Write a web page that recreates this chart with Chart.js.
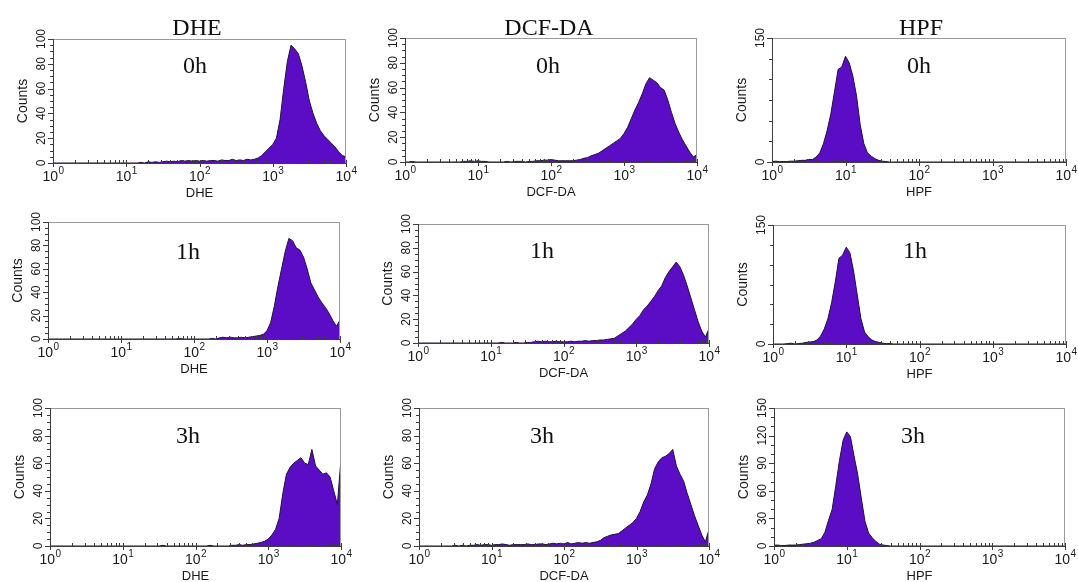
<!DOCTYPE html>
<html>
<head>
<meta charset="utf-8">
<script src="https://cdn.jsdelivr.net/npm/chart.js@4.4.0/dist/chart.umd.min.js"></script>
<style>
  body { margin: 0; background: #fff; width: 1078px; height: 582px; position: relative; overflow: hidden; }
  canvas { position: absolute; }
  .head, .time { position: absolute; transform: translate(-50%, -50%); font-family: "Liberation Serif", "Times New Roman", serif; color: #111; white-space: nowrap; }
  .head { font-size: 24px; }
  .time { font-size: 24px; }
</style>
</head>
<body>
<script>
// x positions of histogram channels, in decades (log10 of intensity)
const logBins = [
  0.00,0.05,0.10,0.15,0.20,0.25,0.30,0.35,0.40,0.45,0.50,0.55,0.60,0.65,0.70,0.75,0.80,0.85,0.90,0.95,
  1.00,1.05,1.10,1.15,1.20,1.25,1.30,1.35,1.40,1.45,1.50,1.55,1.60,1.65,1.70,1.75,1.80,1.85,1.90,1.95,
  2.00,2.05,2.10,2.15,2.20,2.25,2.30,2.35,2.40,2.45,2.50,2.55,2.60,2.65,2.70,2.75,2.80,2.85,2.90,2.95,
  3.00,3.05,3.10,3.15,3.20,3.25,3.30,3.35,3.40,3.45,3.50,3.55,3.60,3.65,3.70,3.75,3.80,3.85,3.90,3.95,
  4.00
];

// counts, one value per bin
const dhe0h = [
  0,0,0,0,0,0,0,0,0,0,0,0,0,0,0,0,0,0,0,0,
  0,0,0,0,0.5,0,1,0.5,1,0.5,1,1.5,1,1.5,1,2,1.5,2,1.5,2,
  1.5,2,1.5,2,2,1.5,2.5,2,2,3,2,2.5,2,3,2.5,3,4,6,9,12,
  15,20,35,60,82,95,92,88,78,65,50,40,32,26,22,19,16,13,9,6,
  5
];
const dhe1h = [
  0,0,0,0,0,0,0,0,0,0,0,0,0,0,0,0,0,0,0,0,
  0,0,0,0,0,0,0,0,0,0,0,0,0,0,0,0,0.5,0,0,0,
  0,0,0,0,0,0.5,0,1,1.5,1,1.5,1,1,1.5,1,1.5,2,2.5,3,4,
  7,14,28,45,60,75,86,84,78,76,70,60,48,42,36,31,27,22,16,11,
  16
];
const dhe3h = [
  0,0,0,0,0,0,0,0,0,0,0,0,0,0,0,0,0,0,0,0,
  0,0,0,0,0,0,0,0,0,0,0,0.5,0,0,0,0,0,0,0,0,
  0,0,0,0,0.5,0,0,0,0,0,0.5,0.5,1,0.5,1,1,1.5,2,2.5,3.5,
  5,8,12,20,38,52,57,60,62,64,60,59,70,58,55,52,53,50,40,30,
  63
];
const dcf0h = [
  0,0,0.5,0,0,0,0,0,0,0,0,0,0,0,0,0,0.5,0.5,1,0.5,
  1,0.5,0.5,0,0,0,0,0,0.5,0,0.5,0.5,0.5,0,0.5,0.5,1,1,1.5,1.5,
  2,1.5,1,1,1,1,1,1.5,2,3,3.5,5,6,7,9,11,13,15,17,19,
  23,28,35,42,48,55,63,68,66,64,60,58,50,40,31,24,18,13,8,4,
  6
];
const dcf1h = [
  0,0,0,0,0,0,0,0,0,0,0,0,0,0,0,0,0,0,0,0,
  0,0,0,0.5,0,0,0,0.5,0,0,0.5,0.5,1,1.5,1,1.5,1,1,1.5,1,
  1,1,1.5,1,1.5,1.5,2,1.5,2,2,2.5,2.5,3,3.5,4,6,8,10,13,16,
  20,23,28,31,35,39,44,48,55,60,64,68,64,57,48,38,28,18,10,5,
  12
];
const dcf3h = [
  0,0,0,0,0,0,0,0,0,0,0.5,0,0.5,0,0.5,0.5,1,0.5,1,1,
  0.5,1,1,1.5,1,0.5,1,1,1,1,1.5,1,1,1.5,1.5,1,1.5,2,1.5,2,
  1.5,2.5,1.5,2,2.5,2,2.5,2,2.5,3,4,6,7,8,8.5,9,11,13,15,17,
  20,25,32,37,45,56,61,64,65,67,70,58,52,47,38,30,22,15,8,3,
  12
];
const hpf0h = [
  0.5,1,0.5,0.5,0.5,1,1,1.5,2,2,3,3,6,11,22,38,58,85,112,115,
  128,120,104,80,45,22,11,7,4,2,1,0.5,0,0,0,0,0,0,0,0,
  0,0,0,0,0,0,0,0,0,0,0,0,0,0,0,0,0,0,0,0,
  0,0,0,0,0,0,0,0,0,0,0,0,0,0,0,0,0,0,0,0,
  0
];
const hpf1h = [
  0,0,0,0,0.5,1,0,0.5,1,2,2.5,3,5,10,19,32,52,78,108,112,
  122,115,92,62,32,15,9,5,3,2,1,0.5,0.5,0,0,0,0,0,0,0,
  0,0,0,0,0,0,0,0,0,0,0,0,0,0,0,0,0,0,0,0,
  0,0,0,0,0,0,0,0,0,0,0,0,0,0,0,0,0,0,0,0,
  0
];
const hpf3h = [
  1,1,0.5,0.5,1,1,1,1.5,2,2.5,3,4,6,8,15,28,40,66,93,115,
  124,119,98,78,52,27,14,9,5,2,1,0.5,0,0,0,0,0,0,0,0,
  0,0,0,0,0,0,0,0,0,0,0,0,0,0,0,0,0,0,0,0,
  0,0,0,0,0,0,0,0,0,0,0,0,0,0,0,0,0,0,0,0,
  0
];

// tick labels
const decades = [0, 1, 2, 3, 4];
const countTicks = [0, 20, 40, 60, 80, 100];
const hpfTicks = [0, 150];
const hpfTicks3h = [0, 30, 60, 90, 120, 150];
const columnTitles = ['DHE', 'DCF-DA', 'HPF'];
const timeLabels = ['0h', '1h', '3h'];

// panel layout (plot rectangle in page pixels)
const panels = [
  { L: 53,  T: 39,  R: 346,  B: 163, data: dhe0h, axis: 'DHE',    yMax: 100, yLabels: countTicks, yStep: 5,  time: 0, tx: 195, ty: 65 },
  { L: 405, T: 38,  R: 697,  B: 162, data: dcf0h, axis: 'DCF-DA', yMax: 100, yLabels: countTicks, yStep: 5,  time: 0, tx: 548, ty: 65 },
  { L: 772, T: 38,  R: 1066, B: 162, data: hpf0h, axis: 'HPF',    yMax: 150, yLabels: hpfTicks,   yStep: 25, time: 0, tx: 919, ty: 65 },
  { L: 48,  T: 222, R: 340,  B: 339, data: dhe1h, axis: 'DHE',    yMax: 100, yLabels: countTicks, yStep: 5,  time: 1, tx: 188, ty: 251 },
  { L: 418, T: 224, R: 709,  B: 343, data: dcf1h, axis: 'DCF-DA', yMax: 100, yLabels: countTicks, yStep: 5,  time: 1, tx: 542, ty: 250 },
  { L: 773, T: 225, R: 1066, B: 344, data: hpf1h, axis: 'HPF',    yMax: 150, yLabels: hpfTicks,   yStep: 25, time: 1, tx: 915, ty: 250 },
  { L: 50,  T: 408, R: 341,  B: 546, data: dhe3h, axis: 'DHE',    yMax: 100, yLabels: countTicks, yStep: 5,  time: 2, tx: 188, ty: 435 },
  { L: 419, T: 408, R: 709,  B: 546, data: dcf3h, axis: 'DCF-DA', yMax: 100, yLabels: countTicks, yStep: 5,  time: 2, tx: 542, ty: 435 },
  { L: 774, T: 408, R: 1065, B: 546, data: hpf3h, axis: 'HPF',    yMax: 150, yLabels: hpfTicks3h, yStep: 10, time: 2, tx: 913, ty: 435 }
];
const headPos = [[197, 27], [549, 27], [921, 27]];

const PAD = { left: 48, right: 18, top: 16, bottom: 40 };
const FILL = '#5b0dc6';
const EDGE = '#22103a';
const SANS = '"Liberation Sans", Arial, sans-serif';

// draws the box, log ticks, rotated count labels and axis titles
function axesPlugin(p) {
  return {
    id: 'axes',
    afterDatasetsDraw(chart) {
      const { ctx, chartArea: a, scales } = chart;
      const xs = scales.x, ys = scales.y;
      ctx.save();
      ctx.lineWidth = 1;
      ctx.strokeStyle = '#9a9a9a';
      ctx.strokeRect(a.left + 0.5, a.top + 0.5, a.right - a.left - 1, a.bottom - a.top);

      ctx.strokeStyle = '#3c3c3c';
      ctx.beginPath();
      ctx.moveTo(a.left + 0.5, a.top);
      ctx.lineTo(a.left + 0.5, a.bottom + 0.5);
      ctx.lineTo(a.right, a.bottom + 0.5);

      // y ticks
      for (let v = 0; v <= p.yMax; v += p.yStep) {
        const py = Math.round(ys.getPixelForValue(v)) + 0.5;
        const len = p.yLabels.includes(v) ? 5 : 3;
        ctx.moveTo(a.left - len, py);
        ctx.lineTo(a.left, py);
      }
      // x ticks, log spaced
      decades.forEach(d => {
        const px = Math.round(xs.getPixelForValue(d)) + 0.5;
        ctx.moveTo(px, a.bottom - 3);
        ctx.lineTo(px, a.bottom + 4);
        if (d < 4) {
          for (let m = 2; m <= 9; m++) {
            const mx = Math.round(xs.getPixelForValue(d + Math.log10(m))) + 0.5;
            ctx.moveTo(mx, a.bottom - 3);
            ctx.lineTo(mx, a.bottom);
          }
        }
      });
      ctx.stroke();

      ctx.fillStyle = '#1a1a1a';
      // x tick labels 10^n
      decades.forEach(d => {
        const px = xs.getPixelForValue(d);
        ctx.font = '14px ' + SANS;
        const w1 = ctx.measureText('10').width;
        ctx.font = '10px ' + SANS;
        const w2 = ctx.measureText(String(d)).width;
        const x0 = px - (w1 + w2) / 2;
        ctx.textAlign = 'left';
        ctx.textBaseline = 'alphabetic';
        ctx.font = '14px ' + SANS;
        ctx.fillText('10', x0, a.bottom + 18);
        ctx.font = '10px ' + SANS;
        ctx.fillText(String(d), x0 + w1 + 0.5, a.bottom + 11);
      });
      // x title
      ctx.font = '13px ' + SANS;
      ctx.textAlign = 'center';
      ctx.textBaseline = 'middle';
      ctx.fillText(p.axis, (a.left + a.right) / 2, a.bottom + 30);

      // y tick labels, rotated
      ctx.font = '12px ' + SANS;
      ctx.textBaseline = 'alphabetic';
      p.yLabels.forEach(v => {
        ctx.save();
        ctx.translate(a.left - 8, ys.getPixelForValue(v));
        ctx.rotate(-Math.PI / 2);
        ctx.fillText(String(v), 0, 0);
        ctx.restore();
      });
      // y title
      ctx.font = '14px ' + SANS;
      ctx.save();
      ctx.translate(a.left - 26, (a.top + a.bottom) / 2);
      ctx.rotate(-Math.PI / 2);
      ctx.fillText('Counts', 0, 0);
      ctx.restore();
      ctx.restore();
    }
  };
}

panels.forEach(p => {
  const canvas = document.createElement('canvas');
  const w = p.R - p.L + PAD.left + PAD.right;
  const h = p.B - p.T + PAD.top + PAD.bottom;
  canvas.width = w;
  canvas.height = h;
  canvas.style.left = (p.L - PAD.left) + 'px';
  canvas.style.top = (p.T - PAD.top) + 'px';
  canvas.style.width = w + 'px';
  canvas.style.height = h + 'px';
  document.body.appendChild(canvas);

  new Chart(canvas, {
    type: 'line',
    data: {
      datasets: [{
        data: logBins.map((b, i) => ({ x: b, y: p.data[i] })),
        fill: 'origin',
        backgroundColor: FILL,
        borderColor: EDGE,
        borderWidth: 1,
        pointRadius: 0,
        tension: 0
      }]
    },
    options: {
      responsive: false,
      animation: false,
      layout: { padding: PAD },
      plugins: { legend: { display: false }, tooltip: { enabled: false } },
      scales: {
        x: { type: 'linear', min: 0, max: 4, display: false },
        y: { min: 0, max: p.yMax, display: false }
      }
    },
    plugins: [axesPlugin(p)]
  });

  const t = document.createElement('div');
  t.className = 'time';
  t.textContent = timeLabels[p.time];
  t.style.left = p.tx + 'px';
  t.style.top = p.ty + 'px';
  document.body.appendChild(t);
});

columnTitles.forEach((name, i) => {
  const d = document.createElement('div');
  d.className = 'head';
  d.textContent = name;
  d.style.left = headPos[i][0] + 'px';
  d.style.top = headPos[i][1] + 'px';
  document.body.appendChild(d);
});
</script>
</body>
</html>
